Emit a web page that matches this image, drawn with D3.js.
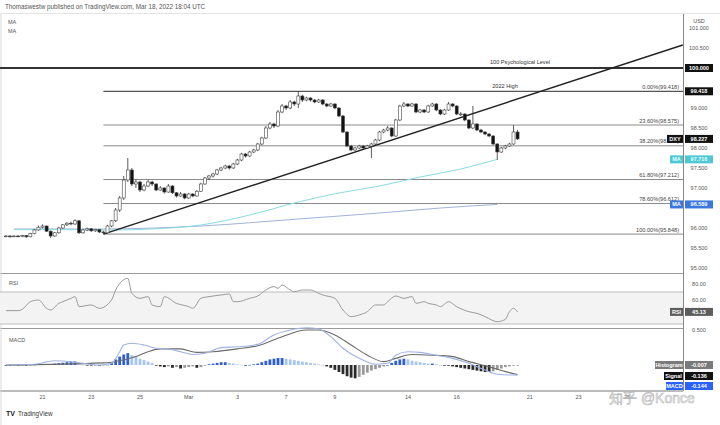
<!DOCTYPE html>
<html>
<head><meta charset="utf-8"/>
<script src="https://d3js.org/d3.v7.min.js"></script>
<style>
body{margin:0;background:#fff;}
text{font-family:"Liberation Sans",Arial,sans-serif;}
</style>
</head>
<body>
<svg width="720" height="425"></svg>
<script>
// 4H candles, [open, high, low, close]
var candles = [
[95.79,95.82,95.77,95.80],[95.80,95.82,95.76,95.78],[95.78,95.82,95.77,95.80],[95.80,95.82,95.77,95.79],
[95.79,95.83,95.77,95.81],[95.81,95.82,95.75,95.78],[95.78,95.88,95.77,95.86],[95.86,95.98,95.84,95.95],
[95.95,96.06,95.93,96.02],[96.02,96.09,95.99,96.05],[96.05,96.06,95.90,95.92],[95.92,95.94,95.75,95.80],
[95.80,95.90,95.78,95.88],[95.88,96.03,95.86,96.00],[96.00,96.10,95.98,96.08],[96.08,96.15,96.05,96.12],
[96.12,96.16,96.07,96.10],[96.10,96.22,96.08,96.18],[96.18,96.20,95.85,95.88],[95.88,95.98,95.86,95.95],
[95.95,96.01,95.92,95.98],[95.98,96.00,95.90,95.93],[95.93,95.98,95.90,95.96],[95.96,95.97,95.87,95.90],
[95.90,95.93,95.848,95.88],[95.88,96.08,95.86,96.05],[96.05,96.20,96.02,96.18],[96.18,96.50,96.15,96.45],
[96.45,96.80,96.40,96.75],[96.75,97.30,96.70,97.20],[97.20,97.75,97.15,97.45],[97.45,97.50,97.05,97.10],
[97.10,97.22,97.00,97.15],[97.15,97.18,96.90,96.95],[96.95,97.10,96.92,97.05],[97.05,97.20,97.02,97.15],
[97.15,97.18,97.05,97.10],[97.10,97.12,96.92,96.95],[96.95,97.05,96.93,97.00],[97.00,97.02,96.86,96.90],
[96.90,97.10,96.88,97.05],[97.05,97.07,96.85,96.88],[96.88,96.90,96.76,96.80],[96.80,96.90,96.78,96.85],
[96.85,96.87,96.72,96.75],[96.75,96.88,96.73,96.85],[96.85,96.87,96.77,96.80],[96.80,96.95,96.78,96.92],
[96.92,97.13,96.90,97.10],[97.10,97.28,97.08,97.25],[97.25,97.33,97.20,97.30],[97.30,97.38,97.26,97.35],
[97.35,97.48,97.32,97.45],[97.45,97.53,97.42,97.50],[97.50,97.58,97.47,97.55],[97.55,97.57,97.46,97.50],
[97.50,97.63,97.48,97.60],[97.60,97.73,97.57,97.70],[97.70,97.88,97.67,97.85],[97.85,97.87,97.76,97.80],
[97.80,97.93,97.78,97.90],[97.90,97.98,97.87,97.95],[97.95,98.13,97.92,98.10],[98.10,98.28,98.07,98.25],
[98.25,98.55,98.22,98.50],[98.50,98.65,98.47,98.60],[98.60,98.63,98.50,98.55],[98.55,98.95,98.52,98.90],
[98.90,99.10,98.87,99.05],[99.05,99.08,98.95,99.00],[99.00,99.20,98.97,99.15],[99.15,99.18,99.05,99.10],
[99.10,99.418,99.00,99.30],[99.30,99.33,99.15,99.20],[99.20,99.28,99.17,99.25],[99.25,99.27,99.16,99.20],
[99.20,99.22,99.12,99.15],[99.15,99.23,99.13,99.20],[99.20,99.22,99.07,99.10],[99.10,99.12,99.02,99.05],
[99.05,99.13,99.03,99.10],[99.10,99.12,98.97,99.00],[99.00,99.02,98.77,98.80],[98.80,98.83,98.37,98.40],
[98.40,98.42,98.02,98.05],[98.05,98.08,97.92,97.95],[97.95,98.03,97.93,98.00],[98.00,98.08,97.97,98.05],
[98.05,98.07,97.97,98.00],[98.00,98.08,97.98,98.05],[98.05,98.13,97.75,98.10],[98.10,98.23,98.07,98.20],
[98.20,98.43,98.17,98.40],[98.40,98.48,98.37,98.45],[98.45,98.55,98.42,98.50],[98.50,98.52,98.27,98.30],
[98.30,98.73,98.28,98.70],[98.70,99.08,98.67,99.05],[99.05,99.15,99.02,99.10],[99.10,99.12,99.02,99.05],
[99.05,99.13,99.03,99.10],[99.10,99.12,98.87,98.90],[98.90,98.98,98.87,98.95],[98.95,98.97,98.87,98.90],
[98.90,99.08,98.88,99.05],[99.05,99.13,99.03,99.10],[99.10,99.12,98.92,98.95],[98.95,98.97,98.82,98.85],
[98.85,98.98,98.83,98.95],[98.95,99.15,98.93,99.10],[99.10,99.12,99.02,99.05],[99.05,99.07,98.82,98.85],
[98.85,98.90,98.80,98.85],[98.85,98.87,98.67,98.70],[98.70,98.72,98.47,98.50],[98.50,99.05,98.47,98.60],
[98.60,98.62,98.42,98.45],[98.45,98.48,98.37,98.40],[98.40,98.42,98.32,98.35],[98.35,98.37,98.27,98.30],
[98.30,98.32,98.07,98.10],[98.10,98.12,97.70,97.90],[97.90,98.03,97.88,98.00],[98.00,98.08,97.97,98.05],
[98.05,98.13,98.03,98.10],[98.10,98.57,98.08,98.40],[98.40,98.45,98.20,98.227]
];

// moving averages, [candle index, value]
var maCyan = [[2,95.96],[13,95.96],[26,95.95],[36,95.975],[48,96.075],[60,96.325],[72,96.65],[82,96.875],[92,97.05],[102,97.275],[112,97.475],[121,97.716]];
var maBlue = [[2,95.975],[23,95.975],[48,96.05],[72,96.225],[92,96.375],[107,96.5],[121,96.589]];

// fibonacci retracement
var fibPct = ["0.00%", "23.60%", "38.20%", "61.80%", "78.60%", "100.00%"];
var fibLevels = [99.418, 98.575, 98.054, 97.212, 96.612, 95.848];
var fibStart = 24;
var psychLevel = 100.0;
var trendFrom = [24, 95.848];
var trendTo = [166.7, 100.575];

var priceTicks = [101.0, 100.5, 99.0, 98.5, 98.0, 97.5, 97.0, 96.0, 95.5, 95.0];
var rsiTicks = [80, 60];

// RSI, [candle index, value]
var rsiPts = [[0,46.7],[3,46.7],[4,48.3],[6,57.9],[8,60],[10,49.6],[11,47.5],[13,55.8],[14,57.9],[16,62.1],[17,64.2],
[18,51.7],[21,53.8],[23,49.6],[26,60],[27,72.5],[30,87],[31,68.3],[33,62.1],[35,64.2],[36,53.8],[38,51.7],[39,64.2],
[42,55.8],[45,51.7],[46,49.6],[48,62.1],[50,64.2],[53,66.3],[55,67.5],[56,57.9],[57,57.9],[60,62.1],[62,65],[64,72.5],
[66,76.7],[67,74.6],[68,78.8],[70,72.5],[71,70.4],[73,72.5],[75,72.5],[77,68.3],[78,66.3],[81,62.1],[83,47.5],[85,39.2],
[87,41.3],[89,45.4],[91,53.8],[93,53.8],[94,57.9],[96,65],[98,62.1],[100,64.2],[101,55.8],[103,57.9],[104,55.8],
[106,53.8],[107,51.7],[109,57.9],[111,51.7],[114,45.4],[116,43.3],[118,39.2],[121,32.9],[123,35.8],[124,45.4],[125,49.6],[126,45.13]];

// MACD and signal, [candle index, value]
var macdPts = [[0,0],[7,0.01],[12,0.06],[17,0.04],[23,0],[26,0.024],[28,0.19],[29,0.286],[31,0.31],[34,0.286],[37,0.24],
[40,0.23],[43,0.19],[46,0.15],[49,0.167],[53,0.248],[57,0.26],[62,0.295],[66,0.43],[70,0.5],[74,0.533],[77,0.514],
[80,0.405],[83,0.24],[87,0.095],[91,0.01],[94,0.024],[96,0.14],[99,0.19],[102,0.18],[105,0.15],[110,0.095],[114,0.024],
[118,-0.071],[121,-0.133],[124,-0.143],[126,-0.144]];
var signalPts = [[0,0],[24,0.03],[26,0.04],[32,0.12],[35,0.19],[38,0.23],[43,0.23],[47,0.18],[51,0.19],[57,0.23],[62,0.276],
[68,0.405],[74,0.5],[77,0.5],[81,0.43],[85,0.286],[89,0.14],[93,0.048],[96,0.095],[100,0.15],[105,0.14],[110,0.12],
[114,0.048],[119,-0.024],[123,-0.095],[126,-0.136]];
var hist = [-0.01,-0.01,-0.008,-0.01,-0.006,-0.008,-0.004,0.004,0.01,0.012,0.01,0.014,0.02,0.026,0.032,0.04,0.05,0.05,
0.01,0.004,-0.004,-0.008,-0.006,-0.01,-0.006,0.004,0.03,0.08,0.12,0.15,0.17,0.14,0.12,0.09,0.07,0.05,0.03,-0.01,-0.02,
-0.03,-0.02,-0.04,-0.03,-0.05,-0.04,-0.03,-0.02,-0.04,-0.03,-0.01,0.01,0.02,0.03,0.04,0.04,0.03,0.02,0.01,0.004,-0.004,
0.002,0.01,0.02,0.04,0.06,0.08,0.09,0.1,0.1,0.09,0.08,0.07,0.06,0.05,0.04,0.03,0.02,0.01,0,-0.02,-0.04,-0.07,-0.1,
-0.13,-0.16,-0.18,-0.19,-0.17,-0.14,-0.11,-0.08,-0.06,-0.04,-0.02,0,0.03,0.06,0.08,0.09,0.08,0.06,0.05,0.04,0.03,0.02,
0.02,0.01,0,-0.01,-0.01,-0.02,-0.03,-0.04,-0.05,-0.06,-0.07,-0.08,-0.09,-0.1,-0.1,-0.09,-0.07,-0.05,-0.03,-0.02,-0.01,-0.007];

// date labels on the time axis, [candle index, label]
var dayTicks = [[9,"21"],[21,"23"],[33,"25"],[45,"Mar"],[57,"3"],[69,"7"],[81,"9"],[99,"14"],[111,"16"],[129,"21"],[141,"23"],[153,"25"]];

var svg = d3.select("svg");
var W = 720, axisX = 683;

var x = d3.scaleLinear().domain([0, 126]).range([6, 6 + 126 * 4.06]);
var y = d3.scaleLinear().domain([95, 101]).range([268, 28]);
var yr = d3.scaleLinear().domain([0, 100]).range([348, 268]);
var ym = d3.scaleLinear().domain([-1, 1]).range([435, 295]);

svg.append("rect").attr("width", W).attr("height", 425).attr("fill", "#fff");

var defs = svg.append("defs");
defs.append("clipPath").attr("id", "cp").append("rect").attr("x", 0).attr("y", 14).attr("width", axisX).attr("height", 259);
defs.append("clipPath").attr("id", "cr").append("rect").attr("x", 0).attr("y", 274).attr("width", axisX).attr("height", 54);

// frame
svg.append("line").attr("x1", 0).attr("x2", W).attr("y1", 13.5).attr("y2", 13.5).attr("stroke", "#e3e3e3");
svg.append("line").attr("x1", axisX + 0.5).attr("x2", axisX + 0.5).attr("y1", 14).attr("y2", 391).attr("stroke", "#888");
[273.5, 328.5].forEach(function(v) {
  svg.append("line").attr("x1", 0).attr("x2", axisX).attr("y1", v).attr("y2", v).attr("stroke", "#9a9a9a");
});
svg.append("line").attr("x1", 0).attr("x2", axisX).attr("y1", 391).attr("y2", 391).attr("stroke", "#a5a5a5").attr("stroke-width", 1.5);
svg.append("line").attr("x1", 1).attr("x2", 1).attr("y1", 14).attr("y2", 425).attr("stroke", "#d8d8d8");

svg.append("text").attr("x", 5).attr("y", 9).attr("font-size", 6.3).attr("fill", "#555")
  .text("Thomaswestw published on TradingView.com, Mar 18, 2022 18:04 UTC");
svg.append("text").attr("x", 8).attr("y", 24).attr("font-size", 5.5).attr("fill", "#555").text("MA");
svg.append("text").attr("x", 8).attr("y", 33).attr("font-size", 5.5).attr("fill", "#555").text("MA");

// price pane
var pp = svg.append("g").attr("clip-path", "url(#cp)");

fibLevels.forEach(function(v, k) {
  pp.append("line").attr("x1", x(fibStart)).attr("x2", axisX).attr("y1", y(v)).attr("y2", y(v))
    .attr("stroke", k == 0 ? "#555" : "#8a8a8a").attr("stroke-width", k == 0 ? 1.3 : 1);
  pp.append("text").attr("x", 679).attr("y", y(v) - 2.5).attr("text-anchor", "end")
    .attr("font-size", 5.6).attr("fill", "#444").text(fibPct[k] + "(" + v.toFixed(3) + ")");
});
pp.append("line").attr("x1", 0).attr("x2", axisX).attr("y1", y(psychLevel)).attr("y2", y(psychLevel))
  .attr("stroke", "#333").attr("stroke-width", 2);
pp.append("text").attr("x", 520).attr("y", y(psychLevel) - 4).attr("text-anchor", "middle")
  .attr("font-size", 5.6).attr("fill", "#333").text("100 Psychological Level");
pp.append("text").attr("x", 505).attr("y", y(fibLevels[0]) - 3.5).attr("text-anchor", "middle")
  .attr("font-size", 5.6).attr("fill", "#333").text("2022 High");

var line = d3.line().x(function(d) { return x(d[0]); }).curve(d3.curveMonotoneX);
pp.append("path").attr("d", line.y(function(d) { return y(d[1]); })(maBlue))
  .attr("fill", "none").attr("stroke", "#9fb3da").attr("stroke-width", 1);
pp.append("path").attr("d", line.y(function(d) { return y(d[1]); })(maCyan))
  .attr("fill", "none").attr("stroke", "#8adbe2").attr("stroke-width", 1);

pp.append("line").attr("x1", x(trendFrom[0])).attr("y1", y(trendFrom[1]))
  .attr("x2", x(trendTo[0])).attr("y2", y(trendTo[1])).attr("stroke", "#222").attr("stroke-width", 1.4);

var cg = pp.append("g");
cg.selectAll("line").data(candles).enter().append("line")
  .attr("x1", function(d, i) { return x(i); }).attr("x2", function(d, i) { return x(i); })
  .attr("y1", function(d) { return y(d[1]); }).attr("y2", function(d) { return y(d[2]); })
  .attr("stroke", "#333").attr("stroke-width", 0.8);
cg.selectAll("rect").data(candles).enter().append("rect")
  .attr("x", function(d, i) { return x(i) - 1.5; }).attr("width", 3)
  .attr("y", function(d) { return y(Math.max(d[0], d[3])); })
  .attr("height", function(d) { return Math.max(0.8, Math.abs(y(d[0]) - y(d[3]))); })
  .attr("fill", function(d) { return d[3] >= d[0] ? "#fff" : "#111"; })
  .attr("stroke", "#444").attr("stroke-width", 0.6);

// price axis
priceTicks.forEach(function(v) {
  svg.append("text").attr("x", 699).attr("y", y(v) + 2).attr("text-anchor", "middle")
    .attr("font-size", 5.5).attr("fill", "#555").text(v.toFixed(3));
});
svg.append("text").attr("x", 699).attr("y", 23).attr("text-anchor", "middle").attr("font-size", 5.5).attr("fill", "#555").text("USD");

function tag(x0, w, yc, txt, bg, fg) {
  svg.append("rect").attr("x", x0).attr("y", yc - 4).attr("width", w).attr("height", 8).attr("fill", bg);
  svg.append("text").attr("x", x0 + w / 2).attr("y", yc + 2).attr("text-anchor", "middle")
    .attr("font-size", 5.5).attr("font-weight", "bold").attr("fill", fg).text(txt);
}
var last = candles[candles.length - 1][3];
tag(685, 28, y(psychLevel), "100.000", "#111", "#fff");
tag(685, 28, y(fibLevels[0]), "99.418", "#111", "#fff");
tag(667, 16, y(last), "DXY", "#111", "#fff");
tag(685, 28, y(last), last.toFixed(3), "#111", "#fff");
tag(670, 13, y(maCyan[maCyan.length - 1][1]), "MA", "#4fc8d6", "#e8fbfd");
tag(685, 28, y(maCyan[maCyan.length - 1][1]), maCyan[maCyan.length - 1][1].toFixed(3), "#4fc8d6", "#e8fbfd");
tag(670, 13, y(maBlue[maBlue.length - 1][1]), "MA", "#3a78de", "#fff");
tag(685, 28, y(maBlue[maBlue.length - 1][1]), maBlue[maBlue.length - 1][1].toFixed(3), "#3a78de", "#fff");

// RSI pane
var rp = svg.append("g").attr("clip-path", "url(#cr)");
rp.append("rect").attr("x", 0).attr("width", axisX).attr("y", yr(70)).attr("height", yr(30) - yr(70)).attr("fill", "#f3f3f3");
[70, 30].forEach(function(v) {
  rp.append("line").attr("x1", 0).attr("x2", axisX).attr("y1", yr(v)).attr("y2", yr(v)).attr("stroke", "#bdbdbd");
});
rp.append("path").attr("d", line.y(function(d) { return yr(d[1]); })(rsiPts))
  .attr("fill", "none").attr("stroke", "#9a9a9a").attr("stroke-width", 1);
svg.append("text").attr("x", 9).attr("y", 285).attr("font-size", 5.5).attr("fill", "#555").text("RSI");
rsiTicks.forEach(function(v) {
  svg.append("text").attr("x", 699).attr("y", yr(v) + 2).attr("text-anchor", "middle").attr("font-size", 5.5).attr("fill", "#555").text(v.toFixed(2));
});
var rsiLast = rsiPts[rsiPts.length - 1][1];
tag(670, 13, yr(rsiLast), "RSI", "#5d5d5d", "#fff");
tag(685, 28, yr(rsiLast), rsiLast.toFixed(2), "#5d5d5d", "#fff");

// MACD pane
var mp = svg.append("g");
mp.selectAll("rect").data(hist).enter().append("rect")
  .attr("x", function(d, i) { return x(i) - 1.4; }).attr("width", 2.8)
  .attr("y", function(d) { return Math.min(ym(d), ym(0)); })
  .attr("height", function(d) { return Math.max(0.6, Math.abs(ym(d) - ym(0))); })
  .attr("fill", function(d, i) {
    var p = i > 0 ? hist[i - 1] : d;
    if (d >= 0) return d >= p ? "#2f5fd0" : "#a7c6ee";
    return d <= p ? "#2b2b2b" : "#9a9a9a";
  });
mp.append("path").attr("d", line.y(function(d) { return ym(d[1]); })(signalPts))
  .attr("fill", "none").attr("stroke", "#6a6a6a").attr("stroke-width", 1.1);
mp.append("path").attr("d", line.y(function(d) { return ym(d[1]); })(macdPts))
  .attr("fill", "none").attr("stroke", "#9fb2e4").attr("stroke-width", 1.1);
svg.append("text").attr("x", 9).attr("y", 342).attr("font-size", 5.5).attr("fill", "#555").text("MACD");
svg.append("text").attr("x", 699).attr("y", 332).attr("text-anchor", "middle").attr("font-size", 5.5).attr("fill", "#555").text("0.500");
tag(655, 28, 365, "Histogram", "#7a7a7a", "#fff");
tag(685, 28, 365, hist[hist.length - 1].toFixed(3), "#7a7a7a", "#fff");
tag(664, 19, 376, "Signal", "#111", "#fff");
tag(685, 28, 376, signalPts[signalPts.length - 1][1].toFixed(3), "#111", "#fff");
tag(666, 17, 386, "MACD", "#2962ff", "#fff");
tag(685, 28, 386, macdPts[macdPts.length - 1][1].toFixed(3), "#2962ff", "#fff");

// time axis
dayTicks.forEach(function(t) {
  svg.append("text").attr("x", x(t[0])).attr("y", 399).attr("text-anchor", "middle")
    .attr("font-size", 5.5).attr("fill", "#555").text(t[1]);
});

// footer
svg.append("text").attr("x", 6).attr("y", 416).attr("font-size", 7).attr("font-weight", "bold").attr("fill", "#131722").text("TV");
svg.append("text").attr("x", 18).attr("y", 416).attr("font-size", 6.3).attr("fill", "#333").text("TradingView");
svg.append("text").attr("x", 609).attr("y", 403).attr("font-size", 14).attr("fill", "none")
  .attr("stroke", "#b5b5b5").attr("stroke-width", 0.6).text("知乎 @Konce");
</script>
</body>
</html>
